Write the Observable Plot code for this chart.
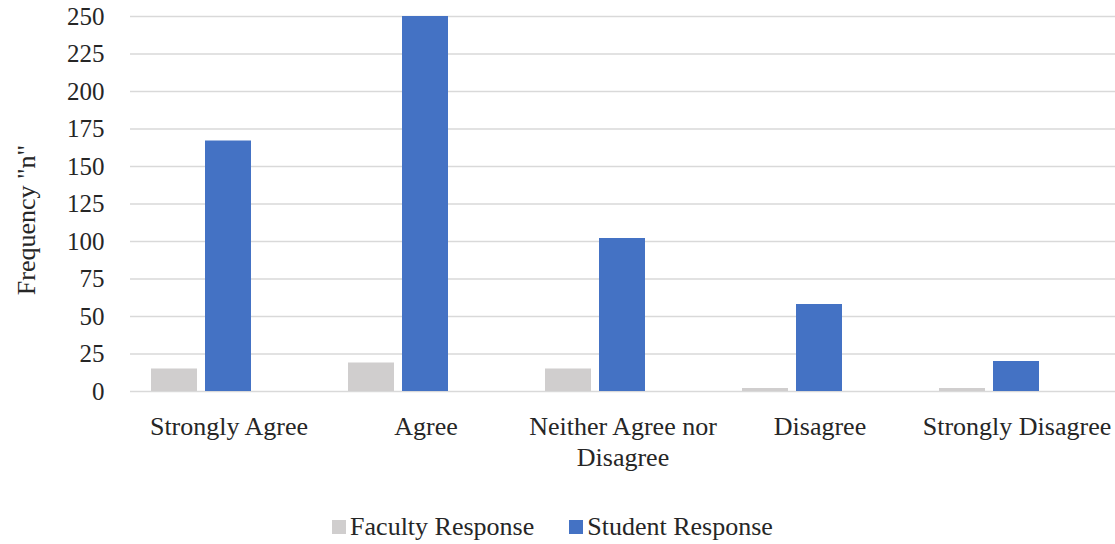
<!DOCTYPE html>
<html>
<head>
<meta charset="utf-8">
<script src="https://cdn.jsdelivr.net/npm/d3@7"></script>
<script src="https://cdn.jsdelivr.net/npm/@observablehq/plot@0.6"></script>
<style>
  body { margin: 0; background: #fff; font-family: "Liberation Serif", "Times New Roman", serif; color: #262626; }
  #chart svg { display: block; }
  .legend { height: 44px; display: flex; justify-content: center; align-items: center; font-size: 26px; margin-left: -10px; margin-top: 15px; }
  .legend .item { display: flex; align-items: center; }
  .legend .sw { width: 14px; height: 14px; margin-right: 4px; }
</style>
</head>
<body>
<div id="chart"></div>
<script>
const categories = ["Strongly Agree", "Agree", "Neither Agree nor Disagree", "Disagree", "Strongly Disagree"];
const tickLabels = ["Strongly Agree", "Agree", "Neither Agree nor\nDisagree", "Disagree", "Strongly Disagree"];
const seriesNames = ["Faculty Response", "Student Response"];
const facultyValues = [15, 19, 15, 2, 2];
const studentValues = [167, 250, 102, 58, 20];
const yTicks = [0, 25, 50, 75, 100, 125, 150, 175, 200, 225, 250];
const colors = ["#D0CECE", "#4472C4"];
const yLabel = 'Frequency "n"';

const data = [];
categories.forEach((c, i) => {
  data.push({category: c, series: seriesNames[0], value: facultyValues[i]});
  data.push({category: c, series: seriesNames[1], value: studentValues[i]});
});

const labelOf = new Map(categories.map((c, i) => [c, tickLabels[i]]));

const chart = Plot.plot({
  width: 1115,
  height: 490,
  marginLeft: 129,
  marginRight: 0,
  marginTop: 16,
  marginBottom: 99,
  style: {fontFamily: '"Liberation Serif", "Times New Roman", serif', color: "#262626", background: "#fff"},
  fx: {domain: categories, padding: 0, label: null, axis: null},
  x: {domain: [...seriesNames, "_empty"], paddingInner: 0.148, paddingOuter: 0.39, axis: null},
  y: {domain: [0, 250], label: null, axis: null},
  color: {domain: seriesNames, range: colors},
  marks: [
    Plot.ruleY(yTicks, {stroke: "#D9D9D9", strokeWidth: 1.5}),
    Plot.barY(data, {fx: "category", x: "series", y: "value", fill: "series"}),
    Plot.axisY({ticks: yTicks, tickSize: 0, tickPadding: 26, fontSize: 25, label: null, fill: "#262626"}),
    Plot.axisFx({anchor: "bottom", tickSize: 0, tickPadding: 21, fontSize: 26, label: null, lineHeight: 1.2, tickFormat: d => labelOf.get(d), fill: "#262626"}),
    Plot.text([yLabel], {facetAnchor: "left", frameAnchor: "left", textAnchor: "middle", dx: -104, dy: 16, rotate: -90, fontSize: 26, fill: "#262626"})
  ]
});
document.getElementById("chart").appendChild(chart);

const legend = document.createElement("div");
legend.className = "legend";
seriesNames.forEach((s, i) => {
  const item = document.createElement("div");
  item.className = "item";
  if (i > 0) item.style.marginLeft = "35px";
  const sw = document.createElement("span");
  sw.className = "sw";
  sw.style.background = colors[i];
  const t = document.createElement("span");
  t.textContent = s;
  item.appendChild(sw);
  item.appendChild(t);
  legend.appendChild(item);
});
document.body.appendChild(legend);
</script>
</body>
</html>
